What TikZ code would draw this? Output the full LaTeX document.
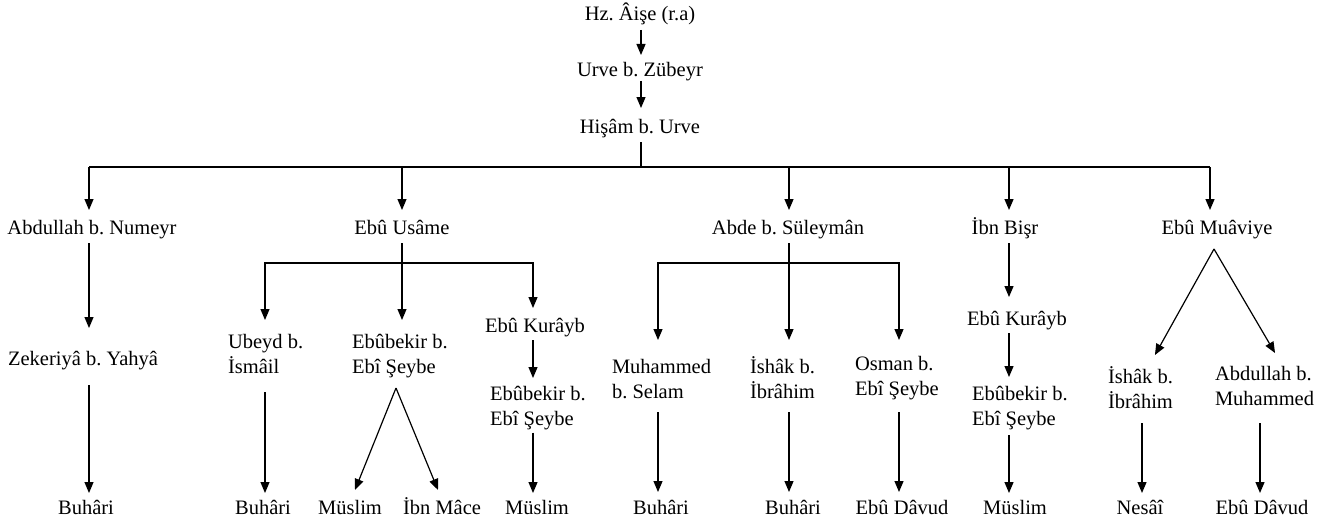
\documentclass[tikz,border=0pt]{standalone}
\usepackage{fontspec}
\setmainfont{Liberation Serif}
\usetikzlibrary{arrows.meta}
\frenchspacing
% two-line name, first baseline is the node's base
\newcommand\pairlines[2]{\begin{tabular}[t]{@{}l@{}}#1\\#2\end{tabular}}
\begin{document}
\begin{tikzpicture}[x=1pt,y=-1pt,
  lbl/.style={inner sep=0pt,outer sep=0pt,font=\fontsize{20.5}{25}\selectfont},
  ctr/.style={lbl,anchor=base},
  bw/.style={lbl,anchor=base west},
  ln/.style={line width=1.2pt},
  arr/.style={ln,-{Triangle[length=11pt,width=9pt]}}]
\useasboundingbox (0,0) rectangle (1342,527);

% column positions of the connectors
\coordinate (cA) at (89,0);
\coordinate (cB) at (402,0);
\coordinate (cB1) at (265,0);
\coordinate (cB3) at (533,0);
\coordinate (cC) at (789,0);
\coordinate (cC1) at (658,0);
\coordinate (cC3) at (899,0);
\coordinate (cD) at (1009,0);
\coordinate (cE) at (1210,0);
\coordinate (cE1) at (1142,0);
\coordinate (cE2) at (1260,0);
% branching points
\coordinate (j0) at (641,167);
\coordinate (j1) at (402,263);
\coordinate (j2) at (789,263);
\coordinate (v1) at (396,388);
\coordinate (v2) at (1214,249);

% chain at the top
\node[ctr] (hz) at (640,21) {\strut Hz. Âişe (r.a)};
\node[ctr] (urve) at (640,77) {\strut Urve b. Zübeyr};
\node[ctr] (hisam) at (640,133) {\strut Hişâm b. Urve};

% second level
\node[ctr] (abd) at (92,234) {\strut Abdullah b. Numeyr};
\node[ctr] (usame) at (402,234) {\strut Ebû Usâme};
\node[ctr] (abde) at (788,234) {\strut Abde b. Süleymân};
\node[ctr] (bisr) at (1005,234) {\strut İbn Bişr};
\node[ctr] (muav) at (1217,234) {\strut Ebû Muâviye};

% Abdullah b. Numeyr
\node[ctr] (zek) at (83,365) {\strut Zekeriyâ b. Yahyâ};
\node[ctr] (buh1) at (86,514) {\strut Buhâri};

% Ebû Usâme
\node[bw] (ubeyd) at (228,348) {\pairlines{Ubeyd b.}{İsmâil}};
\node[bw] (ebA) at (352,348) {\pairlines{Ebûbekir b.}{Ebî Şeybe}};
\node[ctr] (kur1) at (535,332) {\strut Ebû Kurâyb};
\node[bw] (ebB) at (490,400) {\pairlines{Ebûbekir b.}{Ebî Şeybe}};
\node[ctr] (buh2) at (263,514) {\strut Buhâri};
\node[ctr] (mus1) at (350,514) {\strut Müslim};
\node[ctr] (mace) at (442,514) {\strut İbn Mâce};
\node[ctr] (mus2) at (537,514) {\strut Müslim};

% Abde b. Süleymân
\node[bw] (muh) at (612,373) {\pairlines{Muhammed}{b. Selam}};
\node[bw] (ish1) at (750,373) {\pairlines{İshâk b.}{İbrâhim}};
\node[bw] (osman) at (855,370) {\pairlines{Osman b.}{Ebî Şeybe}};
\node[ctr] (buh3) at (661,514) {\strut Buhâri};
\node[ctr] (buh4) at (793,514) {\strut Buhâri};
\node[ctr] (dav1) at (902,514) {\strut Ebû Dâvud};

% İbn Bişr
\node[ctr] (kur2) at (1017,325) {\strut Ebû Kurâyb};
\node[bw] (ebC) at (972,400) {\pairlines{Ebûbekir b.}{Ebî Şeybe}};
\node[ctr] (mus3) at (1015,514) {\strut Müslim};

% Ebû Muâviye
\node[bw] (ish2) at (1108,383) {\pairlines{İshâk b.}{İbrâhim}};
\node[bw] (abd2) at (1215,380) {\pairlines{Abdullah b.}{Muhammed}};
\node[ctr] (nesai) at (1140,514) {\strut Nesâî};
\node[ctr] (dav2) at (1262,514) {\strut Ebû Dâvud};

% top chain connectors
\draw[arr,shorten <=1.5pt,shorten >=4.5pt] (hz.south -| j0) -- (urve.north -| j0);
\draw[arr,shorten <=-3.5pt,shorten >=7.5pt] (urve.south -| j0) -- (hisam.north -| j0);
\draw[ln,shorten <=1.5pt] (hisam.south -| j0) -- (j0);
\draw[ln] (j0 -| cA) -- (j0 -| cE);
\draw[arr,shorten >=6.5pt] (j0 -| cA) -- (abd.north -| cA);
\draw[arr,shorten >=6.5pt] (j0 -| cB) -- (usame.north -| cB);
\draw[arr,shorten >=6.5pt] (j0 -| cC) -- (abde.north -| cC);
\draw[arr,shorten >=6.5pt] (j0 -| cD) -- (bisr.north -| cD);
\draw[arr,shorten >=6.5pt] (j0 -| cE) -- (muav.north -| cE);

% Abdullah b. Numeyr branch
\draw[arr,shorten <=1.5pt,shorten >=19.5pt] (abd.south -| cA) -- (zek.north -| cA);
\draw[arr,shorten <=12.5pt,shorten >=3.5pt] (zek.south -| cA) -- (buh1.north -| cA);

% Ebû Usâme branch
\draw[arr,shorten <=1.5pt,shorten >=10.5pt] (usame.south -| cB) -- (ebA.north -| cB);
\draw[arr,shorten >=10.5pt] (j1) -| (ubeyd.north -| cB1);
\draw[arr,shorten >=6.5pt] (j1) -| (kur1.north -| cB3);
\draw[arr,shorten <=11.5pt,shorten >=3.5pt] (ubeyd.south -| cB1) -- (buh2.north -| cB1);
\draw[arr] (v1) -- ([xshift=5pt,yshift=6.5pt]mus1.north);
\draw[arr] (v1) -- ([xshift=-4pt,yshift=6.5pt]mace.north);
\draw[arr,shorten <=0.5pt,shorten >=4.5pt] (kur1.south -| cB3) -- (ebB.north -| cB3);
\draw[arr,shorten >=3.5pt] (ebB.south -| cB3) -- (mus2.north -| cB3);

% Abde b. Süleymân branch
\draw[arr,shorten <=1.5pt,shorten >=15.5pt] (abde.south -| cC) -- (ish1.north -| cC);
\draw[arr,shorten >=15.5pt] (j2) -| (muh.north -| cC1);
\draw[arr,shorten >=12.5pt] (j2) -| (osman.north -| cC3);
\draw[arr,shorten <=6.5pt,shorten >=4.5pt] (muh.south -| cC1) -- (buh3.north -| cC1);
\draw[arr,shorten <=6.5pt,shorten >=4.5pt] (ish1.south -| cC) -- (buh4.north -| cC);
\draw[arr,shorten <=9.5pt,shorten >=4.5pt] (osman.south -| cC3) -- (dav1.north -| cC3);

% İbn Bişr branch
\draw[arr,shorten <=1.5pt,shorten >=10.5pt] (bisr.south -| cD) -- (kur2.north -| cD);
\draw[arr,shorten <=0.5pt,shorten >=5.5pt] (kur2.south -| cD) -- (ebC.north -| cD);
\draw[arr,shorten <=2.5pt,shorten >=3.5pt] (ebC.south -| cD) -- (mus3.north -| cD);

% Ebû Muâviye branch
\draw[arr] (v2) -- ([xshift=14.5pt,yshift=10.5pt]ish2.north);
\draw[arr] (v2) -- ([xshift=10.5pt,yshift=9.5pt]abd2.north);
\draw[arr,shorten <=7.5pt,shorten >=3.5pt] (ish2.south -| cE1) -- (nesai.north -| cE1);
\draw[arr,shorten <=10.5pt,shorten >=3.5pt] (abd2.south -| cE2) -- (dav2.north -| cE2);
\end{tikzpicture}
\end{document}
